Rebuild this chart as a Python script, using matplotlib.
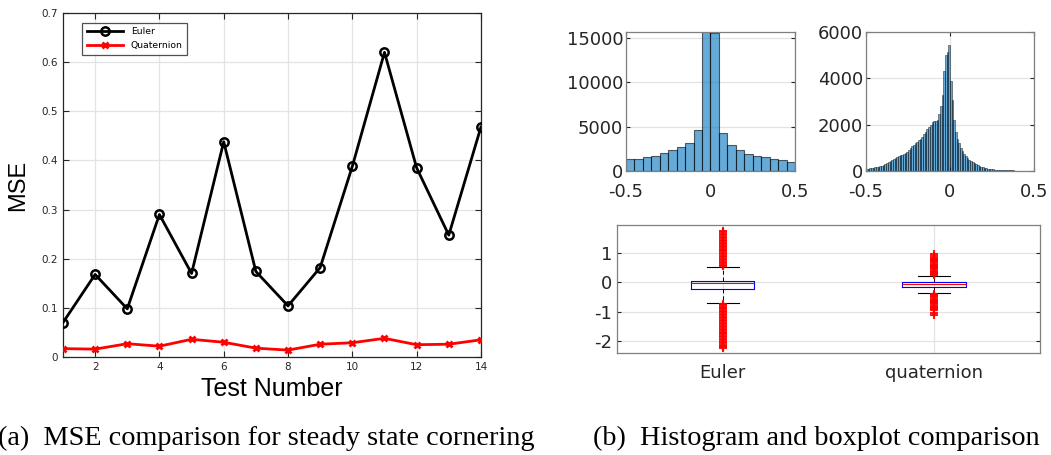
import matplotlib
matplotlib.use("Agg")
import matplotlib.pyplot as plt
import numpy as np

plt.rcParams["axes.unicode_minus"] = False

# (a) MSE per test
test_number = list(range(1, 15))
mse_euler = [0.070, 0.168, 0.098, 0.290, 0.170, 0.438, 0.174, 0.104, 0.182, 0.388, 0.620, 0.385, 0.248, 0.468]
mse_quat = [0.017, 0.016, 0.027, 0.022, 0.036, 0.030, 0.018, 0.014, 0.026, 0.029, 0.038, 0.025, 0.026, 0.035]

# (b) histogram of Euler errors, 20 bins of 0.05
euler_counts = [1390, 1400, 1575, 1725, 2025, 2325, 2660, 3190, 4575, 17000,
                15500, 4310, 2960, 2325, 1875, 1650, 1575, 1350, 1200, 1050]
# histogram of quaternion errors, 100 bins of 0.01
quat_counts = [90, 100, 110, 125, 140, 155, 170, 185, 200, 230,
               260, 290, 330, 370, 410, 460, 500, 550, 590, 630,
               670, 710, 750, 790, 840, 920, 1000, 1070, 1140, 1210,
               1260, 1330, 1400, 1480, 1600, 1700, 1800, 1900, 2000, 2100,
               2150, 2150, 2200, 2450, 2800, 3300, 4300, 5000, 5150, 5450,
               3900, 3050, 2200, 1700, 1400, 1220, 1000, 850, 720, 640,
               560, 480, 430, 390, 350, 300, 250, 215, 180, 155,
               135, 115, 100, 90, 80, 72, 64, 56, 50, 44,
               40, 37, 34, 31, 29, 27, 25, 23, 21, 20,
               19, 18, 17, 16, 15, 14, 13, 12, 12, 11]

# boxplot summaries
box_labels = ["Euler", "quaternion"]
box_q1 = [-0.24, -0.16]
box_med = [-0.02, -0.07]
box_q3 = [0.06, 0.0]
box_whislo = [-0.71, -0.37]
box_whishi = [0.53, 0.21]
euler_fliers = [0.56, 0.6, 0.65, 0.7, 0.75, 0.8, 0.85, 0.9, 0.95, 1.0, 1.05, 1.1,
                1.15, 1.2, 1.25, 1.3, 1.35, 1.4, 1.45, 1.5, 1.55, 1.6, 1.65, 1.7, 1.74,
                -0.73, -0.77, -0.82, -0.87, -0.92, -0.97, -1.02, -1.07, -1.12, -1.17,
                -1.22, -1.27, -1.32, -1.37, -1.42, -1.47, -1.52, -1.57, -1.62, -1.67,
                -1.72, -1.77, -1.82, -1.87, -1.92, -1.97, -2.02, -2.07, -2.12, -2.17,
                -2.21, -2.24]
quat_fliers = [0.24, 0.28, 0.32, 0.36, 0.4, 0.44, 0.48, 0.52, 0.56, 0.6, 0.64,
               0.68, 0.72, 0.76, 0.8, 0.83, 0.9, 0.98,
               -0.39, -0.43, -0.47, -0.51, -0.55, -0.59, -0.63, -0.67, -0.71,
               -0.75, -0.79, -0.83, -0.87, -0.91, -0.95, -1.03, -1.1]

grid_c = "#e3e3e3"
frame_c = "#262626"
tick_c = "#262626"

fig = plt.figure(figsize=(10.51, 4.55), dpi=100)

# ---- (a) MSE line chart
ax = fig.add_axes([0.0599, 0.2154, 0.3977, 0.756])
ax.plot(test_number, mse_euler, color="black", lw=2, marker="o", ms=6,
        mfc="none", mew=1.8, label="Euler", zorder=3)
ax.plot(test_number, mse_quat, color="red", lw=2, marker="x", ms=4,
        mew=2, label="Quaternion", zorder=3)
ax.set_xlim(1, 14)
ax.set_ylim(0, 0.7)
ax.set_xticks(range(2, 15, 2))
ax.set_yticks(np.arange(0, 0.71, 0.1))
ax.set_yticklabels(["0", "0.1", "0.2", "0.3", "0.4", "0.5", "0.6", "0.7"])
ax.grid(True, color=grid_c, lw=0.9)
ax.set_axisbelow(True)
ax.tick_params(direction="in", top=True, right=True, labelsize=7.5,
               colors=tick_c, length=4)
for s in ax.spines.values():
    s.set_color(frame_c)
    s.set_linewidth(0.9)
ax.set_xlabel("Test Number", fontsize=18, family="Liberation Sans", labelpad=4)
ax.set_ylabel("MSE", fontsize=17, family="Liberation Sans", labelpad=9)
leg = ax.legend(loc="upper left", fontsize=6.7, frameon=True, fancybox=False,
                edgecolor=frame_c, handlelength=3.9, borderpad=0.5,
                bbox_to_anchor=(0.035, 0.985))
leg.get_frame().set_linewidth(0.9)

# ---- (b) histograms
bar_face = (0.0, 0.447, 0.741, 0.6)
bar_edge = (0.0, 0.0, 0.0, 0.6)
hist_frame = "#7f7f7f"


def style_hist(a):
    a.grid(True, color=grid_c, lw=0.9)
    a.set_axisbelow(True)
    a.tick_params(direction="in", top=True, right=True, labelsize=13,
                  colors=tick_c, length=3, pad=2)
    a.tick_params(axis="x", pad=9)
    for s in a.spines.values():
        s.set_color(hist_frame)
        s.set_linewidth(0.9)
    a.set_xlim(-0.5, 0.5)
    a.set_xticks([-0.5, 0, 0.5])
    a.set_xticklabels(["-0.5", "0", "0.5"])


h1 = fig.add_axes([0.5956, 0.6242, 0.1608, 0.3055])
edges1 = -0.5 + 0.05 * np.arange(len(euler_counts))
h1.bar(edges1, euler_counts, width=0.05, align="edge", color=bar_face,
       edgecolor=bar_edge, lw=0.8)
h1.set_ylim(0, 15650)
h1.set_yticks([0, 5000, 10000, 15000])
style_hist(h1)

h2 = fig.add_axes([0.824, 0.6242, 0.1598, 0.3055])
edges2 = -0.5 + 0.01 * np.arange(len(quat_counts))
h2.bar(edges2, quat_counts, width=0.01, align="edge", color=bar_face,
       edgecolor=bar_edge, lw=0.5)
h2.set_ylim(0, 6000)
h2.set_yticks([0, 2000, 4000, 6000])
style_hist(h2)

# ---- boxplot
bx = fig.add_axes([0.587, 0.2242, 0.4025, 0.2813])
stats = []
fliers = [euler_fliers, quat_fliers]
for i in range(2):
    stats.append(dict(label=box_labels[i], q1=box_q1[i], med=box_med[i],
                      q3=box_q3[i], whislo=box_whislo[i], whishi=box_whishi[i],
                      fliers=fliers[i]))
bx.bxp(stats, positions=[1, 2], widths=0.3, capwidths=0.15,
       boxprops=dict(color="blue", lw=0.8),
       medianprops=dict(color="red", lw=0.8),
       whiskerprops=dict(color="black", lw=0.7, ls=(0, (4, 3))),
       capprops=dict(color="black", lw=0.8),
       flierprops=dict(marker="+", markeredgecolor="red", ms=5.5, mew=1.5,
                       alpha=0.9))
bx.set_xlim(0.5, 2.5)
bx.set_ylim(-2.4, 1.95)
bx.set_yticks([-2, -1, 0, 1])
bx.grid(True, color=grid_c, lw=0.9)
bx.set_axisbelow(True)
bx.tick_params(axis="y", direction="in", labelsize=13, colors=tick_c,
               length=3, right=True)
bx.tick_params(axis="x", length=0, labelsize=13, colors=tick_c, pad=8)
for s in bx.spines.values():
    s.set_color(hist_frame)
    s.set_linewidth(0.9)

# ---- captions
fig.text(-0.002, 0.037, "(a)  MSE comparison for steady state cornering",
         fontsize=20.3, family="Liberation Serif", ha="left", va="center")
fig.text(0.564, 0.037, "(b)  Histogram and boxplot comparison",
         fontsize=20.3, family="Liberation Serif", ha="left", va="center")

fig.savefig("out.png", dpi=100)
